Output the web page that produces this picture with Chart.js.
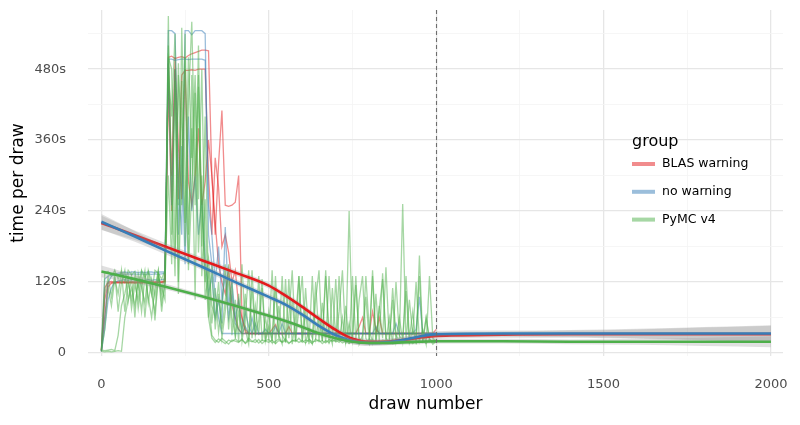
<!DOCTYPE html>
<html lang="en">
<head>
  <meta charset="UTF-8" />
  <title>Time per draw</title>
  <script src="https://cdn.jsdelivr.net/npm/chart.js@4"></script>
  <style>
    body { margin: 0; background: #ffffff; }
    #wrap { width: 800px; height: 425px; }
  </style>
</head>
<body>
  <div id="wrap"><canvas id="chart" width="800" height="425"></canvas></div>

  <script>
    // groups + colours
    const groups = ["BLAS warning", "no warning", "PyMC v4"];
    const groupColors = ["228,26,28", "55,126,184", "77,175,74"];

    // draw numbers of the sampled traces (every 10th draw)
    const draws = [
      0, 10, 20, 30, 40, 50, 60, 70, 80, 90,
      100, 110, 120, 130, 140, 150, 160, 170, 180, 190,
      200, 210, 220, 230, 240, 250, 260, 270, 280, 290,
      300, 310, 320, 330, 340, 350, 360, 370, 380, 390,
      400, 410, 420, 430, 440, 450, 460, 470, 480, 490,
      500, 510, 520, 530, 540, 550, 560, 570, 580, 590,
      600, 610, 620, 630, 640, 650, 660, 670, 680, 690,
      700, 710, 720, 730, 740, 750, 760, 770, 780, 790,
      800, 810, 820, 830, 840, 850, 860, 870, 880, 890,
      900, 910, 920, 930, 940, 950, 960, 970, 980, 990,
      1000
    ];

    // seconds per draw, one array per chain
    const blasChain1 = [
      5, 110, 120, 121, 120, 121, 120, 121, 120, 121,
      120, 121, 120, 121, 120, 121, 120, 121, 121, 122,
      500, 502, 498, 500, 501, 499, 503, 506, 508, 510,
      512, 512, 511, 300, 200, 320, 410, 250, 248, 250,
      255, 300, 60, 35, 33, 33, 33, 33, 33, 33,
      33, 33, 33, 33, 33, 33, 33, 33, 33, 33,
      33, 33, 33, 33, 33, 33, 33, 33, 33, 33,
      33, 33, 33, 33, 33, 33, 33, 33, 33, 33,
      33, 70, 40, 33, 33, 33, 33, 33, 33, 33,
      33, 33, 33, 33, 33, 33, 33, 33, 33, 33,
      33
    ];
    const blasChain2 = [
      3, 90, 118, 119, 118, 119, 118, 119, 118, 119,
      118, 119, 118, 119, 118, 119, 118, 119, 119, 120,
      490, 300, 480, 260, 470, 478, 478, 479, 478, 480,
      480, 480, 300, 200, 330, 280, 180, 200, 170, 120,
      140, 80, 60, 40, 33, 33, 33, 33, 33, 33,
      33, 40, 48, 33, 33, 33, 33, 33, 33, 33,
      33, 33, 33, 33, 33, 33, 33, 33, 33, 33,
      33, 33, 33, 33, 33, 33, 33, 45, 60, 33,
      33, 33, 33, 60, 33, 33, 33, 33, 33, 33,
      33, 33, 33, 33, 33, 33, 33, 33, 33, 33,
      40
    ];
    const blasChain3 = [
      5, 60, 112, 118, 120, 119, 120, 119, 120, 119,
      120, 119, 120, 119, 120, 119, 120, 119, 120, 121,
      450, 240, 500, 350, 260, 480, 290, 250, 300, 380,
      250, 290, 360, 300, 220, 150, 120, 100, 140, 80,
      60, 40, 33, 33, 33, 33, 33, 33, 33, 33,
      33, 33, 33, 33, 33, 33, 45, 33, 33, 33,
      33, 33, 33, 33, 33, 33, 33, 33, 33, 33,
      33, 33, 33, 33, 33, 33, 33, 33, 33, 33,
      33, 33, 33, 33, 33, 33, 33, 33, 33, 33,
      33, 33, 33, 33, 33, 33, 33, 33, 33, 33,
      33
    ];
    const noWarnChain1 = [
      3, 60, 120, 130, 133, 135, 136, 137, 136, 137,
      137, 136, 137, 136, 137, 137, 136, 137, 137, 137,
      545, 545, 540, 300, 200, 545, 545, 538, 545, 545,
      545, 540, 200, 150, 100, 60, 33, 33, 33, 33,
      33, 33, 33, 33, 33, 33, 33, 33, 33, 33,
      33, 33, 33, 33, 33, 33, 33, 33, 33, 33,
      33, 33, 33, 33, 33, 33, 33, 33, 33, 33,
      33, 33, 33, 33, 33, 33, 33, 33, 33, 33,
      33, 33, 33, 33, 33, 33, 33, 33, 33, 33,
      33, 33, 33, 33, 33, 33, 33, 33, 33, 33,
      33
    ];
    const noWarnChain2 = [
      3, 125, 130, 132, 133, 133, 134, 133, 134, 133,
      134, 133, 134, 133, 134, 133, 134, 133, 134, 135,
      497, 497, 495, 496, 497, 497, 496, 497, 497, 497,
      497, 495, 250, 200, 120, 180, 90, 130, 60, 100,
      50, 40, 33, 45, 33, 60, 33, 33, 33, 33,
      33, 33, 33, 33, 50, 33, 33, 33, 33, 33,
      33, 33, 33, 33, 33, 33, 33, 33, 33, 33,
      33, 33, 33, 33, 33, 33, 33, 33, 33, 33,
      33, 33, 33, 33, 33, 33, 33, 33, 33, 33,
      33, 33, 33, 33, 40, 95, 33, 33, 33, 33,
      33
    ];
    const noWarnChain3 = [
      3, 40, 90, 110, 120, 122, 123, 124, 123, 124,
      124, 123, 124, 123, 124, 123, 124, 123, 124, 125,
      490, 250, 480, 200, 350, 150, 400, 240, 300, 200,
      260, 160, 100, 130, 60, 90, 50, 213, 80, 120,
      60, 90, 40, 70, 45, 33, 50, 33, 33, 40,
      33, 33, 45, 33, 33, 33, 33, 33, 33, 33,
      33, 33, 33, 33, 33, 33, 33, 33, 33, 33,
      33, 33, 33, 33, 33, 33, 33, 33, 33, 33,
      33, 33, 45, 33, 33, 33, 33, 33, 50, 33,
      33, 33, 33, 33, 33, 33, 33, 33, 33, 33,
      33
    ];
    const pymcChain1 = [
      3, 2, 3, 2, 3, 4, 3, 60, 90, 110,
      80, 120, 70, 130, 95, 60, 110, 140, 85, 120,
      570, 200, 480, 120, 550, 300, 150, 470, 250, 520,
      180, 400, 90, 30, 22, 18, 25, 20, 15, 22,
      20, 18, 24, 16, 21, 19, 23, 17, 22, 20,
      18, 22, 16, 21, 19, 24, 17, 20, 22, 18,
      21, 17, 23, 19, 20, 22, 16, 21, 18, 23,
      19, 22, 17, 20, 24, 18, 21, 16, 22, 19,
      20, 23, 17, 21, 19, 22, 18, 20, 24, 17,
      21, 19, 23, 16, 20, 22, 18, 21, 19, 22,
      20
    ];
    const pymcChain2 = [
      5, 4, 5, 6, 4, 30, 80, 100, 130, 75,
      115, 90, 135, 60, 125, 100, 70, 130, 110, 90,
      500, 480, 160, 470, 380, 220, 500, 330, 470, 260,
      480, 150, 60, 25, 18, 24, 20, 16, 22, 19,
      24, 19, 22, 17, 25, 20, 18, 23, 16, 21,
      23, 17, 20, 24, 18, 21, 16, 22, 19, 25,
      18, 22, 20, 16, 24, 19, 21, 17, 23, 20,
      22, 18, 24, 19, 16, 21, 23, 18, 20, 17,
      24, 19, 21, 16, 22, 20, 18, 23, 17, 21,
      19, 24, 17, 22, 20, 18, 21, 16, 23, 20,
      22
    ];
    const pymcChain3 = [
      5, 135, 138, 130, 140, 125, 138, 120, 140, 132,
      138, 110, 140, 128, 138, 100, 140, 135, 125, 140,
      470, 400, 540, 250, 460, 180, 420, 560, 300, 450,
      250, 120, 160, 80, 60, 120, 40, 90, 150, 60,
      30, 100, 20, 60, 140, 25, 80, 30, 110, 20,
      70, 20, 130, 30, 15, 125, 25, 90, 20, 130,
      20, 70, 15, 130, 25, 60, 20, 140, 15, 110,
      25, 130, 20, 80, 15, 130, 20, 90, 130, 25,
      15, 140, 20, 75, 125, 20, 60, 15, 120, 30,
      20, 130, 25, 70, 15, 165, 20, 60, 25, 15,
      20
    ];
    const pymcChain4 = [
      4, 100, 128, 95, 135, 70, 120, 140, 88, 130,
      60, 135, 110, 85, 140, 120, 55, 130, 100, 140,
      520, 280, 130, 490, 250, 540, 200, 380, 90, 470,
      130, 260, 60, 150, 40, 100, 25, 70, 130, 30,
      90, 20, 150, 40, 15, 110, 30, 130, 20, 60,
      25, 140, 15, 80, 30, 20, 125, 15, 60, 130,
      20, 110, 25, 15, 90, 140, 20, 130, 35, 15,
      125, 20, 60, 15, 240, 25, 130, 15, 30, 95,
      20, 130, 15, 80, 25, 145, 20, 110, 30, 20,
      252, 20, 90, 30, 120, 20, 40, 15, 130, 25,
      20
    ];
    const pymcChain5 = [
      3, 40, 110, 80, 125, 100, 140, 70, 120, 90,
      130, 75, 115, 140, 85, 125, 95, 138, 70, 120,
      300, 150, 460, 100, 330, 500, 140, 280, 440, 170,
      300, 90, 140, 50, 110, 35, 80, 150, 40, 120,
      25, 70, 35, 100, 20, 140, 30, 55, 125, 20,
      45, 20, 110, 25, 130, 18, 60, 140, 20, 75,
      130, 18, 40, 25, 120, 20, 85, 18, 130, 30,
      20, 70, 140, 18, 50, 20, 115, 25, 18, 130,
      40, 18, 100, 20, 135, 25, 18, 90, 20, 60,
      20, 105, 18, 40, 20, 130, 18, 60, 20, 18,
      18
    ];

    // smoothed trend per group (fit and standard error band)
    const smoothDraws = [0, 100, 200, 300, 400, 500, 550, 600, 650, 700, 750, 800, 850, 900, 950, 1000, 1200, 1400, 1600, 1800, 2000];
    const blasFit = [220, 199, 178, 157, 136, 114, 97, 78, 58, 39, 24, 19, 19, 22, 26, 29, 31, 32, 32, 32, 32];
    const blasSe = [12, 8, 6, 5, 5, 5, 5, 5, 5, 5, 5, 5, 5, 5, 5, 5, 5, 6, 8, 11, 14];
    const noWarnFit = [222, 197, 171, 146, 120, 95, 82, 65, 46, 30, 20, 17, 18, 22, 28, 32, 33, 33, 33, 33, 33];
    const noWarnSe = [13, 9, 6, 5, 5, 5, 5, 5, 5, 5, 5, 5, 5, 5, 5, 5, 5, 6, 8, 11, 14];
    const pymcFit = [138, 125, 111, 96, 80, 63, 54, 44, 33, 25, 19, 17, 17, 18, 19, 20, 20, 19, 19, 19, 19];
    const pymcSe = [10, 7, 5, 4, 4, 4, 4, 4, 4, 4, 4, 4, 4, 4, 4, 4, 4, 4, 5, 7, 9];

    const yTicks = [0, 120, 240, 360, 480];
    const xTicks = [0, 500, 1000, 1500, 2000];
    const tuneEnd = 1000;

    const chainsByGroup = [
      [blasChain1, blasChain2, blasChain3],
      [noWarnChain1, noWarnChain2, noWarnChain3],
      [pymcChain1, pymcChain2, pymcChain3, pymcChain4, pymcChain5]
    ];
    const fits = [blasFit, noWarnFit, pymcFit];
    const ses = [blasSe, noWarnSe, pymcSe];

    const FONT = '"DejaVu Sans", "Noto Sans", sans-serif';

    const datasets = [];
    let order = 1000;

    // raw traces, red first so green ends up on top
    chainsByGroup.forEach((chains, g) => {
      chains.forEach(chain => {
        datasets.push({
          data: draws.map((d, i) => ({ x: d, y: chain[i] })),
          borderColor: `rgba(${groupColors[g]},0.5)`,
          borderWidth: 1.3,
          pointRadius: 0,
          tension: 0,
          fill: false,
          order: order--
        });
      });
    });

    // ribbon + fitted line per group
    fits.forEach((fit, g) => {
      const se = ses[g];
      datasets.push({
        data: smoothDraws.map((d, i) => ({ x: d, y: fit[i] - se[i] })),
        borderWidth: 0,
        borderColor: "rgba(0,0,0,0)",
        pointRadius: 0,
        cubicInterpolationMode: "monotone",
        fill: false,
        order: order--
      });
      datasets.push({
        data: smoothDraws.map((d, i) => ({ x: d, y: fit[i] + se[i] })),
        borderWidth: 0,
        borderColor: "rgba(0,0,0,0)",
        backgroundColor: "rgba(153,153,153,0.3)",
        pointRadius: 0,
        cubicInterpolationMode: "monotone",
        fill: "-1",
        order: order--
      });
      datasets.push({
        data: smoothDraws.map((d, i) => ({ x: d, y: fit[i] })),
        borderColor: `rgb(${groupColors[g]})`,
        borderWidth: 2.6,
        pointRadius: 0,
        cubicInterpolationMode: "monotone",
        fill: false,
        order: order--
      });
    });

    // dashed line where tuning ends
    const vlinePlugin = {
      id: "vline",
      afterDatasetsDraw(chart) {
        const { ctx, chartArea, scales } = chart;
        const x = Math.round(scales.x.getPixelForValue(tuneEnd)) + 0.5;
        ctx.save();
        ctx.strokeStyle = "#6e6e6e";
        ctx.lineWidth = 1.1;
        ctx.setLineDash([4, 3]);
        ctx.beginPath();
        ctx.moveTo(x, chartArea.top);
        ctx.lineTo(x, chartArea.bottom);
        ctx.stroke();
        ctx.restore();
      }
    };

    // x title + ggplot-ish legend sitting inside the panel
    const legendPlugin = {
      id: "groupLegend",
      afterDraw(chart) {
        const ctx = chart.ctx;
        ctx.save();
        ctx.textBaseline = "middle";
        ctx.fillStyle = "#000000";

        ctx.textAlign = "center";
        ctx.font = "17px " + FONT;
        ctx.fillText("draw number", 425.5, 405);

        ctx.textAlign = "left";
        ctx.font = "16px " + FONT;
        ctx.fillText("group", 632, 142);
        groups.forEach((name, i) => {
          const y = 164 + i * 27.8;
          ctx.strokeStyle = `rgba(${groupColors[i]},0.5)`;
          ctx.lineWidth = 4;
          ctx.beginPath();
          ctx.moveTo(632, y);
          ctx.lineTo(655, y);
          ctx.stroke();
          ctx.fillStyle = "#000000";
          ctx.font = "12.5px " + FONT;
          ctx.fillText(name, 662, y);
        });
        ctx.restore();
      }
    };

    const majorGrid = "#e6e6e6";
    const minorGrid = "#f4f4f4";

    new Chart(document.getElementById("chart"), {
      type: "line",
      data: { datasets },
      plugins: [vlinePlugin, legendPlugin],
      options: {
        responsive: false,
        animation: false,
        layout: { padding: { top: 10, right: 17, left: 0, bottom: 0 } },
        plugins: {
          legend: { display: false },
          tooltip: { enabled: false }
        },
        scales: {
          x: {
            type: "linear",
            min: -40,
            max: 2036,
            afterFit: s => { s.height = 69; },
            border: { display: false },
            grid: {
              drawTicks: true,
              tickLength: 19,
              tickColor: "rgba(0,0,0,0)",
              color: c => (c.tick && xTicks.includes(c.tick.value)) ? majorGrid : minorGrid,
              lineWidth: c => (c.tick && xTicks.includes(c.tick.value)) ? 1.3 : 0.8
            },
            ticks: {
              stepSize: 250,
              includeBounds: false,
              autoSkip: false,
              maxRotation: 0,
              padding: 2,
              color: "#4d4d4d",
              font: { family: FONT, size: 13 },
              callback: v => xTicks.includes(v) ? String(v) : ""
            },
            title: { display: false }
          },
          y: {
            min: -5,
            max: 580,
            afterFit: s => { s.width = 88; },
            border: { display: false },
            grid: {
              drawTicks: true,
              tickLength: 20,
              tickColor: "rgba(0,0,0,0)",
              color: c => (c.tick && yTicks.includes(c.tick.value)) ? majorGrid : minorGrid,
              lineWidth: c => (c.tick && yTicks.includes(c.tick.value)) ? 1.3 : 0.8
            },
            ticks: {
              stepSize: 60,
              includeBounds: false,
              autoSkip: false,
              padding: 2,
              color: "#4d4d4d",
              font: { family: FONT, size: 13 },
              callback: v => yTicks.includes(v) ? (v === 0 ? "0" : v + "s") : ""
            },
            title: {
              display: true,
              text: "time per draw",
              color: "#000000",
              font: { family: FONT, size: 17 },
              padding: { top: 8, bottom: 0 }
            }
          }
        }
      }
    });
  </script>
</body>
</html>
